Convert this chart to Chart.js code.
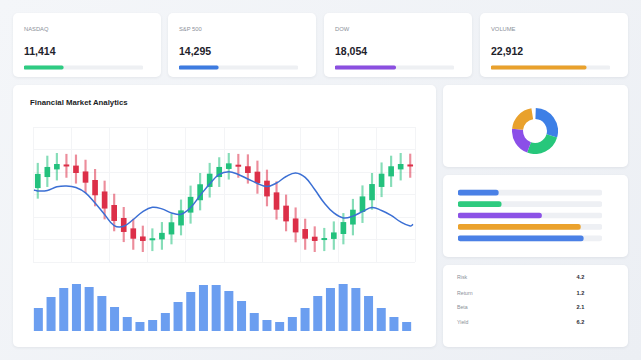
<!DOCTYPE html>
<html><head><meta charset="utf-8">
<script src="https://cdn.jsdelivr.net/npm/chart.js@4.4.1/dist/chart.umd.min.js"></script>
<style>
html,body{margin:0;padding:0;}
body{width:641px;height:360px;position:relative;overflow:hidden;background:linear-gradient(135deg,#f4f6f9 0%,#eceff4 100%);font-family:"Liberation Sans",Arial,sans-serif;}
.card{position:absolute;background:#fff;border-radius:5px;box-shadow:0 1px 3px rgba(30,40,60,0.07);}
.lbl{position:absolute;font-size:5.8px;color:#8b9099;line-height:10px;white-space:nowrap;}
.val{position:absolute;font-size:10.5px;font-weight:bold;color:#1e222b;line-height:14px;white-space:nowrap;}
.title{position:absolute;font-size:7.8px;font-weight:bold;color:#1a1d24;line-height:10px;white-space:nowrap;}
.tl{position:absolute;font-size:5.2px;color:#8b9099;line-height:8px;white-space:nowrap;}
.tv{position:absolute;font-size:5.6px;font-weight:bold;color:#2a2e36;line-height:8px;white-space:nowrap;}
canvas{position:absolute;display:block;}
</style></head><body>
<div class="card" style="left:13px;top:13px;width:148px;height:64px"></div>
<div class="card" style="left:168px;top:13px;width:148px;height:64px"></div>
<div class="card" style="left:324px;top:13px;width:148px;height:64px"></div>
<div class="card" style="left:480px;top:13px;width:148px;height:64px"></div>
<div class="card" style="left:13px;top:85px;width:423px;height:262px"></div>
<div class="card" style="left:443px;top:85px;width:185px;height:82px"></div>
<div class="card" style="left:443px;top:175px;width:185px;height:82px"></div>
<div class="card" style="left:443px;top:265px;width:185px;height:82px"></div>
<div class="title" style="left:30px;top:98px">Financial Market Analytics</div>
<script>
// ---- data ----
const kpiNames = ["NASDAQ", "S&P 500", "DOW", "VOLUME"];
const kpiValues = ["11,414", "14,295", "18,054", "22,912"];
const kpiProgress = [33, 33, 51, 80];
const kpiColors = ["#2ecb82", "#3d7be0", "#8b4fe0", "#e9a12c"];

const candleOpen  = [133.0,137.9,141.3,143.2,142.7,140.1,136.3,131.2,125.2,119.4,114.8,111.2,109.8,110.2,112.4,116.4,122.1,127.6,133.5,137.9,141.5,143.1,142.4,140.0,136.0,130.8,124.9,119.2,114.5,111.1,109.9,110.4,112.6,116.8,122.4,127.6,133.5,138.2,141.3,143.2];
const candleHigh  = [143.9,147.1,148.3,147.9,147.6,145.3,141.2,136.0,130.2,124.3,119.1,116.0,114.8,117.6,121.3,127.6,133.8,139.4,143.9,146.4,148.3,147.9,147.7,144.9,140.9,135.7,129.8,124.1,119.1,115.7,115.0,117.9,121.6,127.9,133.9,139.4,144.1,147.1,148.3,148.0];
const candleLow   = [128.3,133.5,136.4,137.6,135.0,130.8,124.9,119.1,113.8,109.0,105.6,104.6,105.0,105.6,108.0,112.0,117.2,123.1,128.8,133.5,136.8,137.6,135.0,130.5,124.9,119.0,113.8,108.9,105.6,104.6,105.0,105.6,108.0,112.0,117.5,123.4,129.0,133.5,136.4,137.6];
const candleClose = [139.0,142.1,143.4,142.6,139.7,135.4,129.8,123.9,118.4,113.5,110.5,109.5,110.4,112.8,117.5,122.8,128.8,134.4,139.1,142.1,143.7,142.5,139.7,135.2,129.3,123.4,118.2,113.3,110.5,109.5,110.5,113.0,117.6,123.1,129.0,134.5,139.1,142.4,143.4,142.6];

const maX = [-0.4,0,1,2,3,4,5,6,7,8,9,10,11,12,13,14,15,16,17,18,19,20,21,22,23,24,25,26,27,28,29,30,31,32,33,34,35,36,37,38,39,39.3];
const maValues = [132.0,131.6,131.8,133.4,133.8,133.1,130.7,126.2,121.1,116.2,115.9,118.9,122.4,124.3,123.6,121.8,121.2,124.2,129.6,134.7,138.9,140.1,138.9,136.9,134.9,133.6,135.1,138.0,139.6,137.6,132.2,126.2,121.8,119.6,120.4,122.4,124.2,122.9,120.7,117.8,116.0,116.7];

const volumeValues = [23,34,43,47,44,35,24,14,9,11,18,29,39,46,46,40,30,18,11,9,14,23,35,43,47,43,35,23,14,9];

const donutValues = [29, 26, 21, 21];
const donutColors = ["#3d7fe6", "#27c77b", "#8b4fe8", "#e9a12c"];

const barValues = [28, 30, 58, 85, 87];
const barColors = ["#4a80e6", "#2ecb7f", "#8c52e6", "#eba22c", "#4a80e6"];

const tableLabels = ["Risk", "Return", "Beta", "Yield"];
const tableValues = [4.2, 1.2, 2.1, 6.2];

// ---- setup ----
Chart.defaults.animation = false;
Chart.defaults.responsive = false;
Chart.defaults.devicePixelRatio = 1;
Chart.defaults.plugins.legend.display = false;
Chart.defaults.plugins.tooltip.enabled = false;

function mk(x, y, w, h) {
  const c = document.createElement('canvas');
  c.width = w; c.height = h;
  c.style.left = x + 'px'; c.style.top = y + 'px';
  c.style.width = w + 'px'; c.style.height = h + 'px';
  document.body.appendChild(c);
  return c;
}
function txt(cls, x, y, s) {
  const d = document.createElement('div');
  d.className = cls; d.style.left = x + 'px'; d.style.top = y + 'px';
  d.textContent = s; document.body.appendChild(d);
}

// KPI cards
const kpiLeft = [13, 168, 324, 480];
kpiNames.forEach((n, i) => {
  const x = kpiLeft[i] + 11;
  txt('lbl', x, 23.5, n);
  txt('val', x, 43.5, kpiValues[i]);
  new Chart(mk(x, 63, 119, 9), {
    type: 'bar',
    data: { labels: [n], datasets: [
      { data: [kpiProgress[i]], backgroundColor: kpiColors[i], barThickness: 3.5, borderRadius: 2, borderSkipped: false, grouped: false },
      { data: [100], backgroundColor: '#eef0f3', barThickness: 3.5, borderRadius: 2, borderSkipped: false, grouped: false }
    ]},
    options: { indexAxis: 'y', layout: { padding: 0 },
      scales: { x: { display: false, min: 0, max: 100 }, y: { display: false } } }
  });
});

// Candlestick chart
const up = candleOpen.map((o, i) => candleClose[i] >= o);
const gridColor = '#f3f4f6';
new Chart(mk(28, 122, 392, 145), {
  type: 'bar',
  data: { datasets: [
    { type: 'line', data: maX.map((x, i) => ({ x: x, y: maValues[i] })), borderColor: '#3b6fd4', borderWidth: 1.5, pointRadius: 0, tension: 0.4, fill: false },
    { type: 'bar', data: candleOpen.map((o, i) => ({ x: i, y: [o, candleClose[i]] })), backgroundColor: up.map(u => u ? '#23c17d' : '#dc2f48'), barThickness: 5, grouped: false },
    { type: 'bar', data: candleOpen.map((o, i) => ({ x: i, y: [candleLow[i], candleHigh[i]] })), backgroundColor: up.map(u => u ? 'rgba(35,193,125,0.55)' : 'rgba(220,47,72,0.55)'), barThickness: 1.5, grouped: false }
  ]},
  options: {
    layout: { padding: 5 },
    scales: {
      x: { type: 'linear', min: -0.5, max: 39.5, offset: false,
        grid: { offset: false, color: gridColor, drawTicks: false }, border: { display: false },
        ticks: { display: false },
        afterBuildTicks: (axis) => { const t = []; for (let v = -0.5; v <= 39.5; v += 4) t.push({ value: v }); axis.ticks = t; } },
      y: { min: 100, max: 160, ticks: { display: false, stepSize: 10 },
        grid: { color: gridColor, drawTicks: false }, border: { display: false } }
    }
  }
});

// Volume chart
new Chart(mk(32, 281, 381, 50), {
  type: 'bar',
  data: { labels: volumeValues.map((v, i) => String(i + 1)), datasets: [
    { data: volumeValues, backgroundColor: '#6b9ef0', categoryPercentage: 1, barPercentage: 0.71 }
  ]},
  options: { layout: { padding: 0 },
    scales: { x: { display: false }, y: { display: false, min: 0, max: 50 } } }
});

// Donut
new Chart(mk(512, 108, 46, 46), {
  type: 'doughnut',
  data: { labels: ['A', 'B', 'C', 'D'], datasets: [
    { data: donutValues, backgroundColor: donutColors, borderWidth: 0 }
  ]},
  options: { cutout: '52%', rotation: 2, circumference: 349, layout: { padding: 0 } }
});

// Horizontal bars
new Chart(mk(458, 187, 144, 57), {
  type: 'bar',
  data: { labels: barValues.map((v, i) => 'b' + i), datasets: [
    { data: barValues, backgroundColor: barColors, barThickness: 5, borderRadius: 2.5, borderSkipped: false, grouped: false },
    { data: barValues.map(() => 100), backgroundColor: '#eef0f4', barThickness: 5, borderRadius: 2.5, borderSkipped: false, grouped: false }
  ]},
  options: { indexAxis: 'y', layout: { padding: 0 },
    scales: { x: { display: false, min: 0, max: 100 }, y: { display: false } } }
});

// Table
const rowY = [277, 292.7, 307.3, 322];
tableLabels.forEach((l, i) => {
  txt('tl', 457, rowY[i] - 4, l);
  txt('tv', 576.5, rowY[i] - 4, tableValues[i].toFixed(1));
});
</script>
</body></html>
